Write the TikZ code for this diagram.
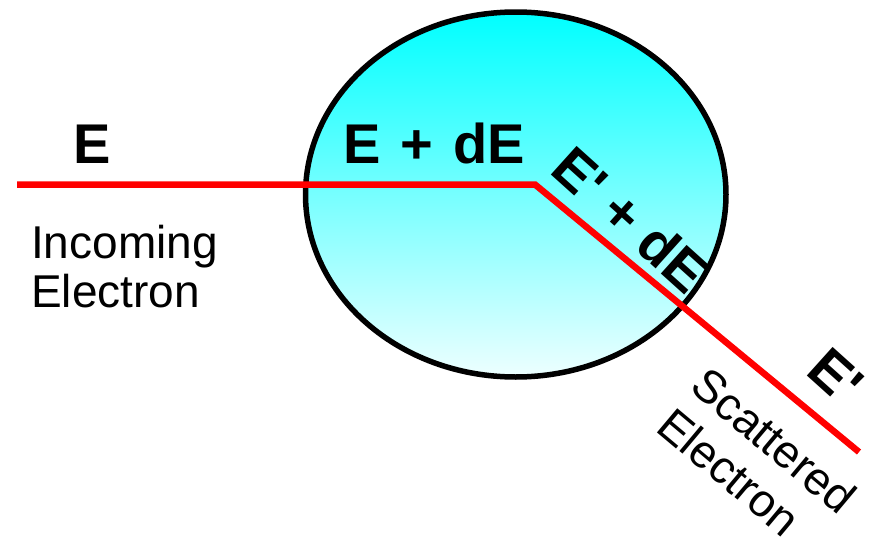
\documentclass[tikz,border=0pt]{standalone}
\usepackage{fontspec}
\setmainfont{Liberation Sans}[Ligatures=TeXOff]
\usetikzlibrary{shapes.geometric}
\begin{document}
\begin{tikzpicture}[x=1pt,y=-1pt,
  bigbold/.style={inner sep=0pt, font=\fontsize{56}{60}\selectfont\bfseries},
  plainlabel/.style={inner sep=0pt, align=left, font=\fontsize{46}{49}\selectfont},
  beam/.style={red, line width=6.5pt},
  target/.style={ellipse, draw=black, line width=5.5pt, top color=cyan, bottom color=cyan!7,
    minimum width=420.5pt, minimum height=365pt, inner sep=0pt}]
\useasboundingbox (0,0) rectangle (879,541);
\node[target] (blob) at (515.75,194.5) {};
\coordinate (src) at (17,184.5);
\coordinate (bend) at (535,184.5);
\coordinate (dst) at (859,452);
\draw[beam] (src) -- (bend) -- (dst);
\node[bigbold, anchor=base west] (einc) at (73,163) {E};
\node[bigbold, anchor=base west] (einside) at (343,163) {E\hspace{0.36em}+\hspace{0.36em}dE};
\node[bigbold, anchor=base west, rotate=-42] (eprimein) at (548,172) {E' + dE};
\node[bigbold, anchor=base west, rotate=-42] (eprime) at (804,373) {E'};
\node[plainlabel, anchor=base west] (inclabel) at (31,307) {Incoming\\Electron};
\node[plainlabel, anchor=base west, rotate=-40, font=\fontsize{46}{53}\selectfont] (scatlabel) at (654,430) {Scattered\\Electron};
\end{tikzpicture}
\end{document}
